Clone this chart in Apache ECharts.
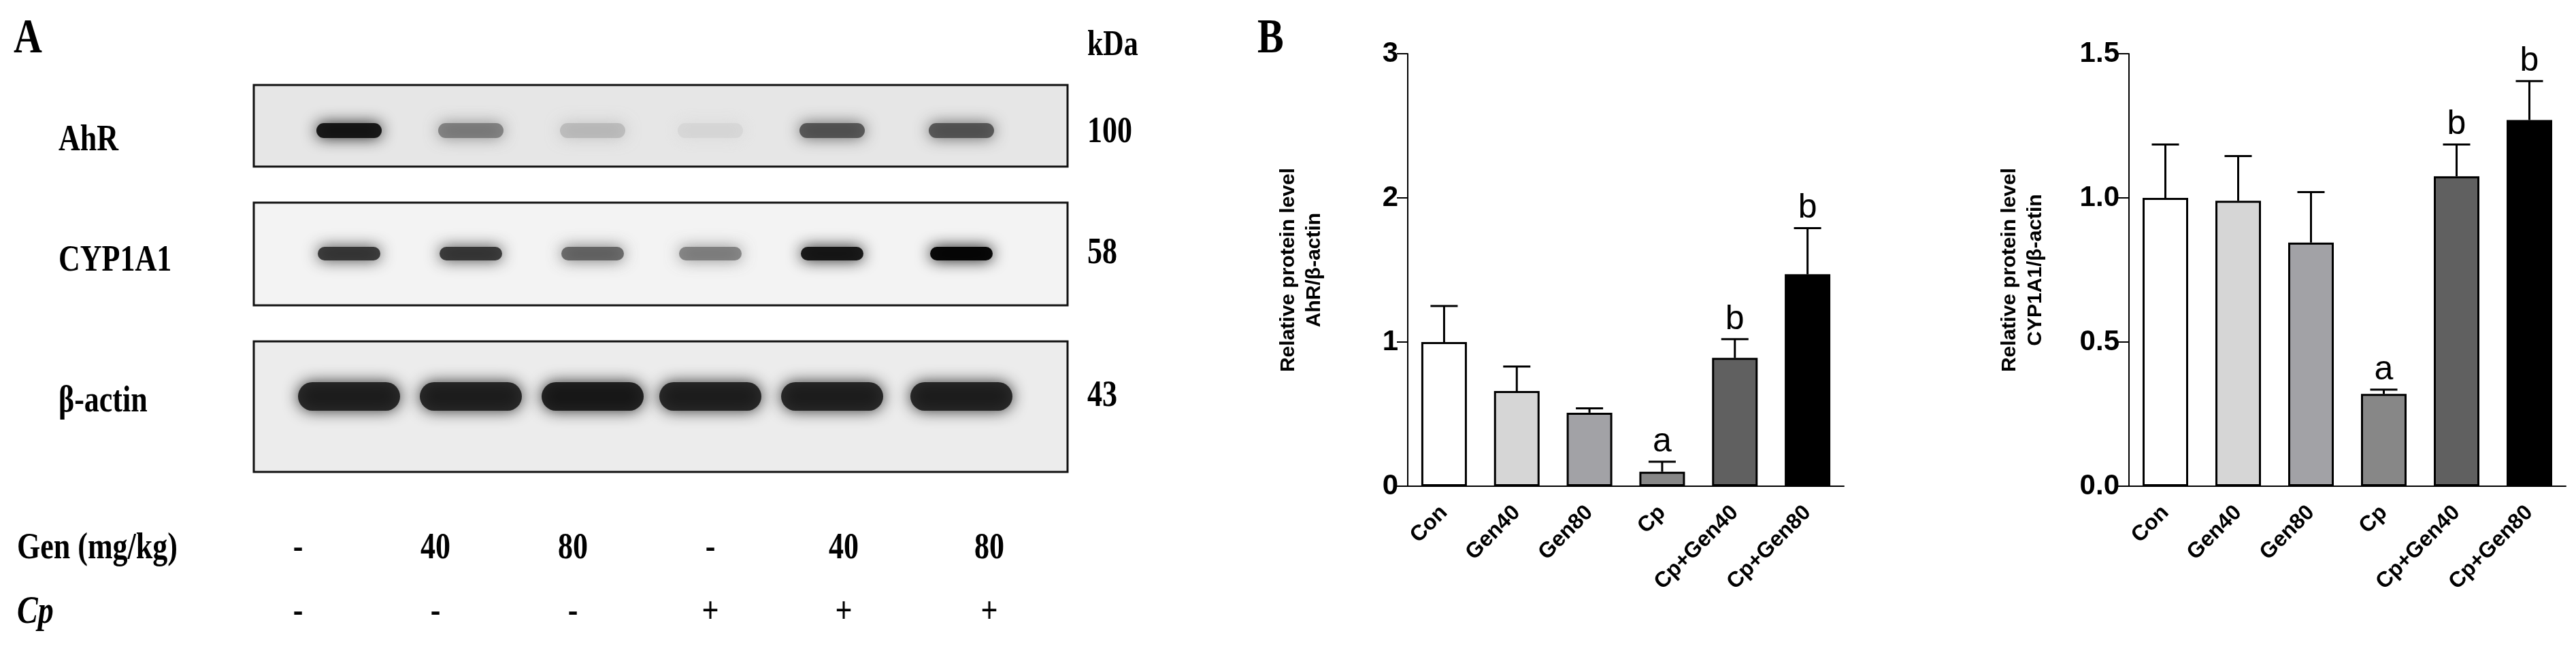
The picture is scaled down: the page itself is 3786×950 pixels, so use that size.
<!DOCTYPE html>
<html lang="en">
<head>
<meta charset="UTF-8">
<title>AhR / CYP1A1 western blot</title>
<script src="https://cdn.jsdelivr.net/npm/echarts@6/dist/echarts.min.js"></script>
<style>
html,body{margin:0;padding:0;background:#fff;}
#main{width:3786px;height:950px;}
</style>
</head>
<body>
<div id="main"></div>
<script>
var groups = ['Con', 'Gen40', 'Gen80', 'Cp', 'Cp+Gen40', 'Cp+Gen80'];
var barColors = ['#ffffff', '#d6d6d6', '#a2a2a6', '#878787', '#606060', '#000000'];
var ahrMean = [1.00, 0.66, 0.51, 0.10, 0.89, 1.47];
var ahrSd = [0.25, 0.17, 0.03, 0.07, 0.13, 0.32];
var ahrSig = ['', '', '', 'a', 'b', 'b'];
var cypMean = [1.00, 0.99, 0.845, 0.32, 1.075, 1.27];
var cypSd = [0.185, 0.155, 0.175, 0.015, 0.11, 0.135];
var cypSig = ['', '', '', 'a', 'b', 'b'];
var genDose = ['-', '40', '80', '-', '40', '80'];
var cpDose = ['-', '-', '-', '+', '+', '+'];
// band darkness per lane (0..1)
var ahrBand = [0.95, 0.6, 0.35, 0.2, 0.75, 0.75];
var cypBand = [0.85, 0.85, 0.7, 0.6, 0.95, 1.0];
var actBand = [0.9, 0.9, 0.92, 0.9, 0.9, 0.9];

var chart = echarts.init(document.getElementById('main'));
var serif = '"Liberation Serif","Times New Roman",serif';
var sans = '"Liberation Sans",Arial,sans-serif';

var laneX = [513, 692, 871, 1044, 1223, 1413];
var rowX = [438, 640, 842, 1044, 1240, 1454];

function blot(y, h, bg, bandY, bandW, bandH, dark) {
    var els = [{type: 'rect', shape: {x: 373, y: y, width: 1196, height: h},
        style: {fill: bg, stroke: '#111', lineWidth: 3}}];
    for (var i = 0; i < dark.length; i++) {
        var g = Math.round(255 * (1 - dark[i]));
        var c = 'rgb(' + g + ',' + g + ',' + g + ')';
        els.push({type: 'rect', shape: {x: laneX[i] - bandW / 2, y: bandY - bandH / 2, width: bandW, height: bandH, r: bandH / 2},
            style: {fill: c, shadowBlur: 22, shadowColor: c, opacity: 0.35 + 0.6 * dark[i]}});
    }
    return els;
}

var graphics = [];
graphics = graphics.concat(blot(125, 120, '#e6e6e6', 192, 96, 22, ahrBand));
graphics = graphics.concat(blot(298, 151, '#f3f3f3', 373, 92, 20, cypBand));
graphics = graphics.concat(blot(502, 192, '#ececec', 583, 150, 42, actBand));
function txt(x, y, s, size, opts) {
    var st = {text: s, fontFamily: serif, fontWeight: 'bold', fontSize: size, fill: '#000',
        textAlign: 'left', textVerticalAlign: 'middle'};
    for (var k in (opts || {})) st[k] = opts[k];
    return {type: 'text', x: x, y: y, scaleY: 1.25, style: st};
}
graphics.push(txt(20, 58, 'A', 58));
graphics.push(txt(1848, 58, 'B', 58));
graphics.push(txt(1598, 67, 'kDa', 42));
graphics.push(txt(1598, 195, '100', 44));
graphics.push(txt(1598, 373, '58', 44));
graphics.push(txt(1598, 583, '43', 44));
graphics.push(txt(86, 207, 'AhR', 44));
graphics.push(txt(86, 384, 'CYP1A1', 44));
graphics.push(txt(86, 591, 'β-actin', 44));
graphics.push(txt(25, 807, 'Gen (mg/kg)', 44));
graphics.push(txt(25, 901, 'Cp', 46, {fontStyle: 'italic'}));
for (var i = 0; i < 6; i++) {
    graphics.push(txt(rowX[i], 807, genDose[i], 44, {textAlign: 'center'}));
    graphics.push(txt(rowX[i], 901, cpDose[i], 44, {textAlign: 'center'}));
}

function axisX(idx) {
    return {
        type: 'category', gridIndex: idx, data: groups,
        axisLine: {lineStyle: {color: '#000', width: 2}},
        axisTick: {alignWithLabel: true, inside: false, length: 26, lineStyle: {color: '#000', width: 2}},
        axisLabel: {rotate: 45, color: '#000', fontFamily: sans, fontWeight: 'bold', fontSize: 32, margin: 34}
    };
}
function axisY(idx, max, interval, digits, name) {
    return {
        type: 'value', gridIndex: idx, min: 0, max: max, interval: interval,
        name: name, nameLocation: 'middle', nameGap: 118, nameRotate: 90,
        nameTextStyle: {color: '#000', fontFamily: sans, fontWeight: 'bold', fontSize: 30, lineHeight: 38},
        axisLine: {show: true, lineStyle: {color: '#000', width: 2}},
        axisTick: {show: true, length: 16, lineStyle: {color: '#000', width: 2}},
        splitLine: {show: false},
        axisLabel: {color: '#000', fontFamily: sans, fontWeight: 'bold', fontSize: 42, margin: 14,
            formatter: function (v) { return v.toFixed(digits); }}
    };
}
function bars(idx, mean) {
    return {
        type: 'bar', xAxisIndex: idx, yAxisIndex: idx, barWidth: 67,
        data: mean.map(function (v, i) {
            return {value: v, itemStyle: {color: barColors[i]}};
        }),
        itemStyle: {borderColor: '#000', borderWidth: 3},
        silent: true, z: 2
    };
}
function errors(idx, mean, sd, sig) {
    return {
        type: 'custom', xAxisIndex: idx, yAxisIndex: idx, z: 1,
        data: mean.map(function (v, i) { return [i, v, v + sd[i]]; }),
        renderItem: function (params, api) {
            var i = api.value(0);
            var lo = api.coord([i, api.value(1)]);
            var hi = api.coord([i, api.value(2)]);
            var ls = {stroke: '#000', lineWidth: 3};
            var ch = [
                {type: 'line', shape: {x1: lo[0], y1: lo[1], x2: hi[0], y2: hi[1]}, style: ls},
                {type: 'line', shape: {x1: hi[0] - 20, y1: hi[1], x2: hi[0] + 20, y2: hi[1]}, style: ls}
            ];
            if (sig[i]) {
                ch.push({type: 'text', x: hi[0], y: hi[1] - 4, style: {text: sig[i], fontFamily: sans,
                    fontSize: 50, fill: '#000', textAlign: 'center', textVerticalAlign: 'bottom'}});
            }
            return {type: 'group', children: ch};
        }
    };
}

var option = {
    animation: false,
    backgroundColor: '#fff',
    graphic: graphics,
    grid: [
        {left: 2069, top: 79, right: 1076, bottom: 235},
        {left: 3129, top: 79, right: 15, bottom: 235}
    ],
    xAxis: [axisX(0), axisX(1)],
    yAxis: [
        axisY(0, 3, 1, 0, 'Relative protein level\nAhR/β-actin'),
        axisY(1, 1.5, 0.5, 1, 'Relative protein level\nCYP1A1/β-actin')
    ],
    series: [
        errors(0, ahrMean, ahrSd, ahrSig), bars(0, ahrMean),
        errors(1, cypMean, cypSd, cypSig), bars(1, cypMean)
    ]
};
chart.setOption(option);
</script>
</body>
</html>
